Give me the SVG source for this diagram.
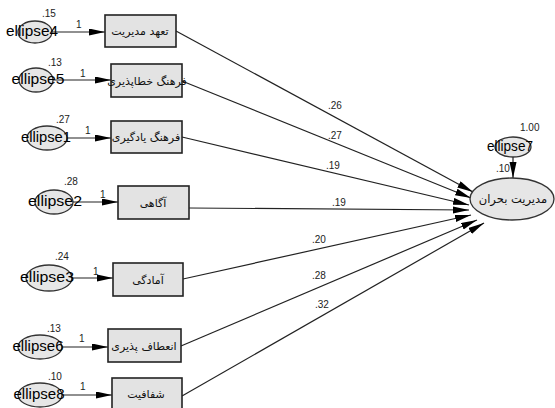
<svg xmlns="http://www.w3.org/2000/svg" width="555" height="408" viewBox="0 0 555 408">
<defs>
<marker id="ah" markerUnits="userSpaceOnUse" markerWidth="18" markerHeight="8" refX="16" refY="3.5" orient="auto">
<path d="M0,0 L16,3.5 L0,7 z" fill="#000"/>
</marker>
<style>
.box{fill:#e3e3e3;stroke:#222;stroke-width:1.6}
.ell{fill:#e6e6e6;stroke:#333;stroke-width:1.3}
.bt{font-family:"DejaVu Sans",sans-serif;font-size:11px;fill:#111;text-anchor:middle}
.et{font-family:"Liberation Sans",Arial,sans-serif;font-size:14px;fill:#000;text-anchor:middle}
.lb{font-family:"Liberation Sans",Arial,sans-serif;font-size:10px;fill:#222}
.ln{stroke:#222;stroke-width:1.2;fill:none;marker-end:url(#ah)}
</style>
</defs>
<rect width="555" height="408" fill="#fff"/>
<g id="connectors">
<line class="ln" x1="52" y1="32" x2="105" y2="32"/>
<line class="ln" x1="53" y1="80" x2="111" y2="80"/>
<line class="ln" x1="67" y1="138" x2="111" y2="138"/>
<line class="ln" x1="73" y1="202" x2="118" y2="202"/>
<line class="ln" x1="72" y1="278" x2="113" y2="278"/>
<line class="ln" x1="62" y1="347" x2="108" y2="347"/>
<line class="ln" x1="62" y1="395" x2="112" y2="395"/>
<line class="ln" x1="176" y1="31" x2="473" y2="192"/>
<line class="ln" x1="182" y1="81" x2="471" y2="198"/>
<line class="ln" x1="182" y1="137" x2="469" y2="205"/>
<line class="ln" x1="189" y1="208" x2="469" y2="210"/>
<line class="ln" x1="183" y1="279" x2="471" y2="215"/>
<line class="ln" x1="181" y1="346" x2="477" y2="220"/>
<line class="ln" x1="182" y1="396" x2="484" y2="223"/>
<line class="ln" x1="513" y1="157" x2="513" y2="178"/>
<text class="lb" x="76" y="28">1</text>
<text class="lb" x="80" y="77">1</text>
<text class="lb" x="85" y="134">1</text>
<text class="lb" x="100" y="198">1</text>
<text class="lb" x="93" y="275">1</text>
<text class="lb" x="79" y="342">1</text>
<text class="lb" x="80" y="390">1</text>
<text class="lb" x="328" y="109">.26</text>
<text class="lb" x="328" y="139">.27</text>
<text class="lb" x="326" y="169">.19</text>
<text class="lb" x="332" y="206">.19</text>
<text class="lb" x="312" y="243">.20</text>
<text class="lb" x="312" y="279">.28</text>
<text class="lb" x="315" y="308">.32</text>
</g>
<g id="e4"><ellipse class="ell" cx="35" cy="32" rx="17" ry="11"/><text class="et" x="32" y="36" textLength="52" lengthAdjust="spacingAndGlyphs">ellipse4</text><text class="lb" x="42" y="17">.15</text></g>
<g id="e5"><ellipse class="ell" cx="36" cy="80" rx="17" ry="12"/><text class="et" x="38" y="84" textLength="53" lengthAdjust="spacingAndGlyphs">ellipse5</text><text class="lb" x="48" y="66">.13</text></g>
<g id="e1"><ellipse class="ell" cx="47" cy="138" rx="20" ry="12"/><text class="et" x="46" y="142" textLength="50" lengthAdjust="spacingAndGlyphs">ellipse1</text><text class="lb" x="56" y="123">.27</text></g>
<g id="e2"><ellipse class="ell" cx="54" cy="202" rx="19" ry="12"/><text class="et" x="55" y="206" textLength="54" lengthAdjust="spacingAndGlyphs">ellipse2</text><text class="lb" x="64" y="185">.28</text></g>
<g id="e3"><ellipse class="ell" cx="49" cy="278" rx="23" ry="13"/><text class="et" x="47" y="282" textLength="54" lengthAdjust="spacingAndGlyphs">ellipse3</text><text class="lb" x="55" y="260">.24</text></g>
<g id="e6"><ellipse class="ell" cx="40" cy="347" rx="22" ry="12"/><text class="et" x="38" y="351" textLength="51" lengthAdjust="spacingAndGlyphs">ellipse6</text><text class="lb" x="47" y="332">.13</text></g>
<g id="e8"><ellipse class="ell" cx="40" cy="395" rx="22" ry="12"/><text class="et" x="39" y="399" textLength="51" lengthAdjust="spacingAndGlyphs">ellipse8</text><text class="lb" x="48" y="380">.10</text></g>
<g id="e7"><ellipse class="ell" cx="513" cy="147" rx="18" ry="10"/><text class="et" x="510" y="151" textLength="46" lengthAdjust="spacingAndGlyphs">ellipse7</text><text class="lb" x="520" y="131">1.00</text><text class="lb" x="496" y="172">.10</text></g>
<g id="b1"><rect class="box" x="105" y="15" width="71" height="32"/><text class="bt" x="140" y="35" direction="rtl">تعهد مدیریت</text></g>
<g id="b2"><rect class="box" x="111" y="64" width="71" height="33"/><text class="bt" x="147" y="85" direction="rtl">فرهنگ خطاپذیری</text></g>
<g id="b3"><rect class="box" x="111" y="121" width="71" height="32"/><text class="bt" x="146" y="141" direction="rtl">فرهنگ یادگیری</text></g>
<g id="b4"><rect class="box" x="118" y="186" width="71" height="33"/><text class="bt" x="153" y="207" direction="rtl">آگاهی</text></g>
<g id="b5"><rect class="box" x="113" y="263" width="70" height="33"/><text class="bt" x="148" y="284" direction="rtl">آمادگی</text></g>
<g id="b6"><rect class="box" x="108" y="329" width="73" height="33"/><text class="bt" x="144" y="350" direction="rtl">انعطاف پذیری</text></g>
<g id="b7"><rect class="box" x="112" y="378" width="70" height="32"/><text class="bt" x="146" y="398" direction="rtl">شفافیت</text></g>
<g id="crisis"><ellipse class="ell" cx="512" cy="199" rx="42" ry="21"/><text class="bt" x="513" y="203" direction="rtl" style="font-size:11.5px">مدیریت بحران</text></g>
</svg>
